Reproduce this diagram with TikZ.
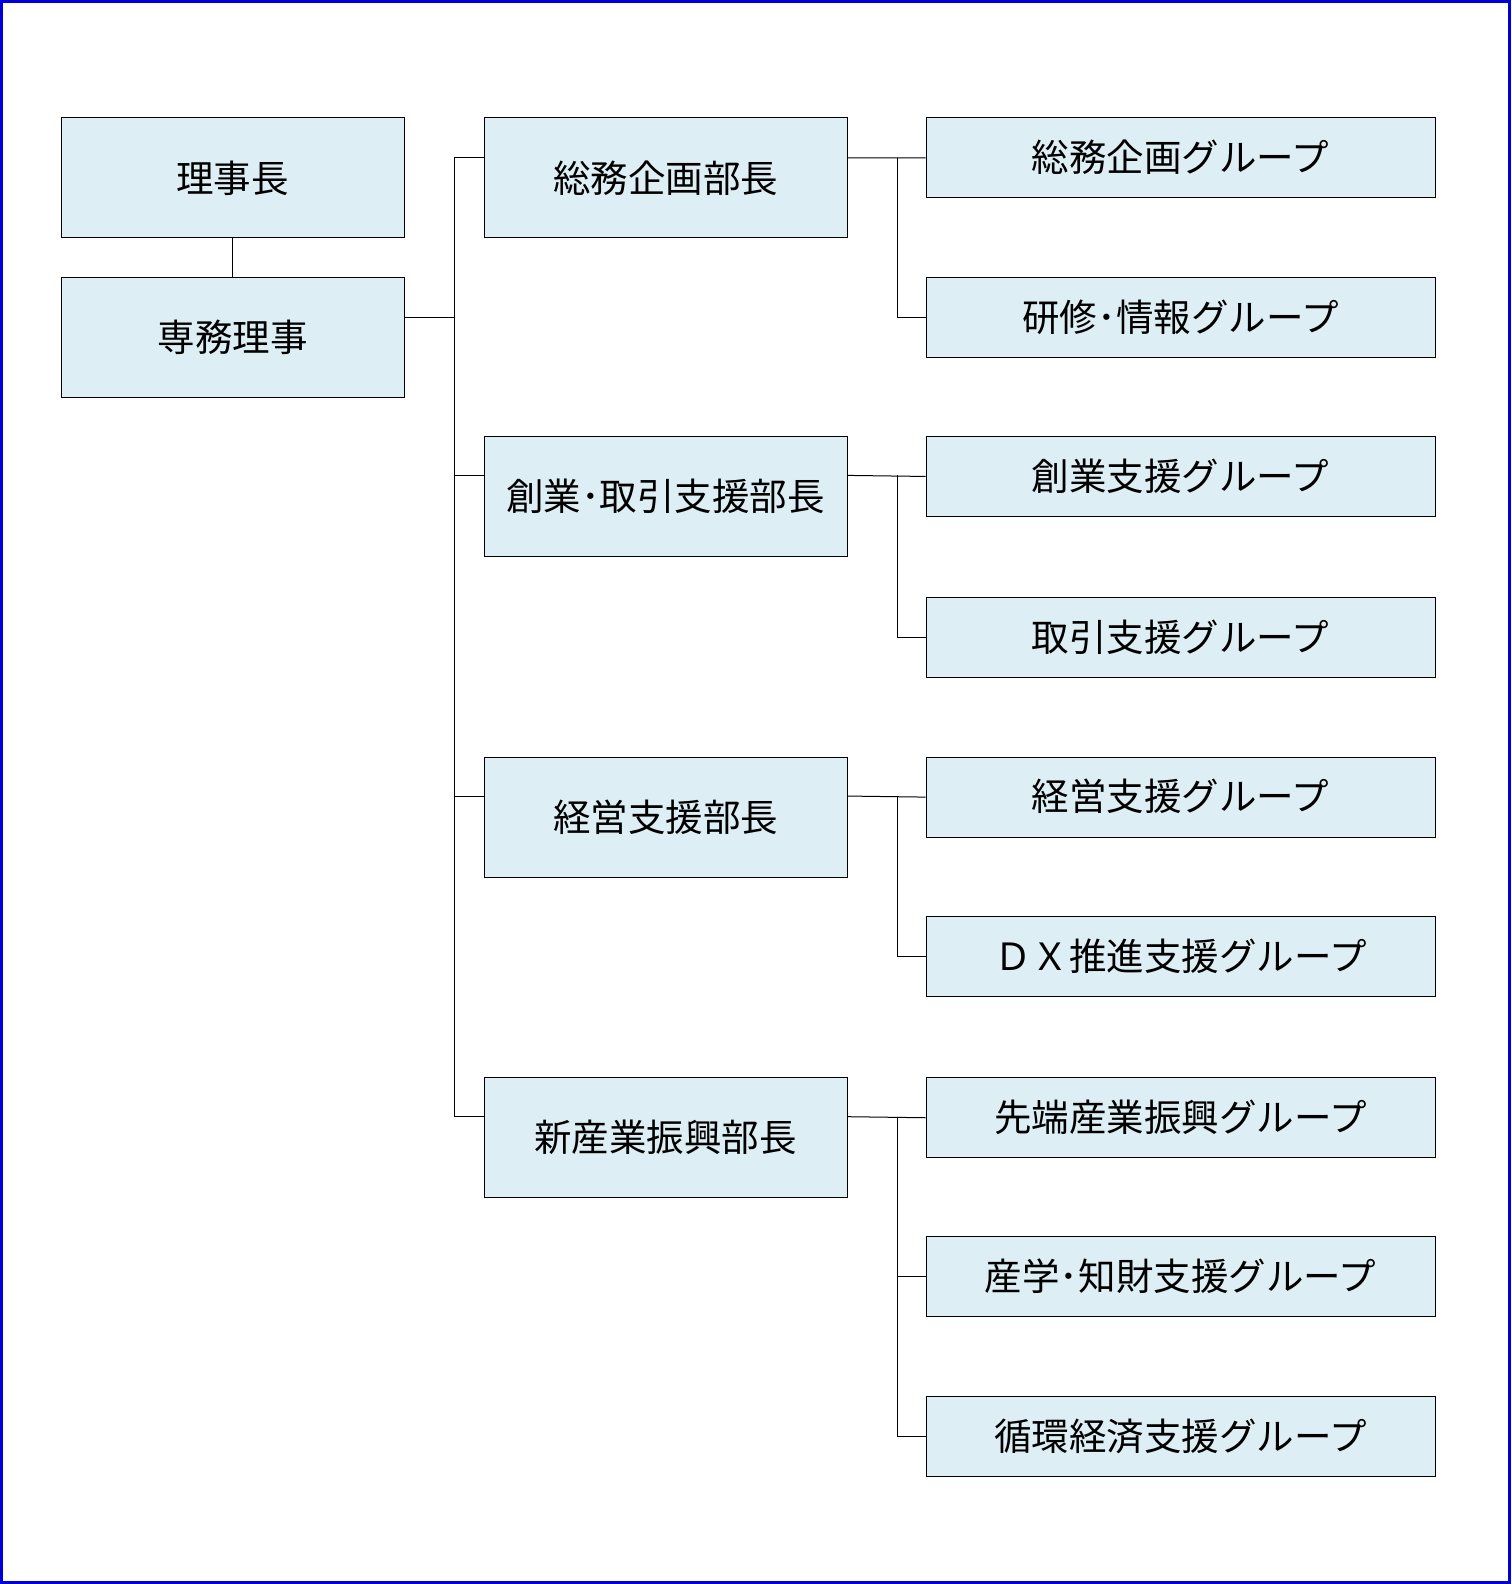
\documentclass[tikz,border=0pt]{standalone}
\usepackage{fontspec}
\setmainfont{Noto Sans CJK JP}
\begin{document}
\begin{tikzpicture}[x=1.0114pt,y=-1.0114pt,
 box/.style={draw=black,line width=1pt,fill=boxfill,inner sep=0pt,anchor=north west,font=\fontsize{37.5}{40}\selectfont},
 ln/.style={line width=1pt}]
\definecolor{boxfill}{HTML}{DDEEF4}
\useasboundingbox (0,0) rectangle (1494,1566);
\draw[draw=blue!85!black,line width=2.5pt,fill=white] (1.5,1.5) rectangle (1492.5,1564.5);
\node[box,minimum width=343pt,minimum height=120pt] (chair) at (60,116) {理事長};
\node[box,minimum width=343pt,minimum height=120pt] (vice) at (60,274) {専務理事};
\foreach \n/\y/\t in {d1/116/総務企画部長,d2/431/創業･取引支援部長,d3/748/経営支援部長,d4/1065/新産業振興部長}
  \node[box,minimum width=363pt,minimum height=120pt] (\n) at (478,\y) {\t};
\foreach \n/\y/\t in {g1/116/総務企画グループ,g2/274/研修･情報グループ,g3/431/創業支援グループ,g4/590/取引支援グループ,g5/748/経営支援グループ,g6/906/ＤＸ推進支援グループ,g7/1065/先端産業振興グループ,g8/1222/産学･知財支援グループ,g9/1380/循環経済支援グループ}
  \node[box,minimum width=509pt,minimum height=80pt,text depth=0pt] (\n) at (915,\y) {\raisebox{4pt}{\t}};
\coordinate (tr) at (449,314);
\draw[ln] (chair.south) -- (vice.north);
\draw[ln] (vice.east |- tr) -- (tr);
\draw[ln] (449,156) -- (449,1104);
\foreach \d/\y in {d1/156,d2/470,d3/787,d4/1104} \draw[ln] (449,\y) -- (\d.west |- 0,\y);
\foreach \d/\y/\ga/\gb in {d1/156/g1/g2,d2/470/g3/g4,d3/787/g5/g6}{
  \draw[ln] (\d.east |- 0,\y) -- (\ga.west);
  \draw[ln] (887,\y) |- (\gb.west);}
\draw[ln] (d4.east |- 0,1104) -- (g7.west);
\draw[ln] (887,1104) |- (g9.west);
\draw[ln] (887,1104) |- (g8.west);
\end{tikzpicture}
\end{document}
